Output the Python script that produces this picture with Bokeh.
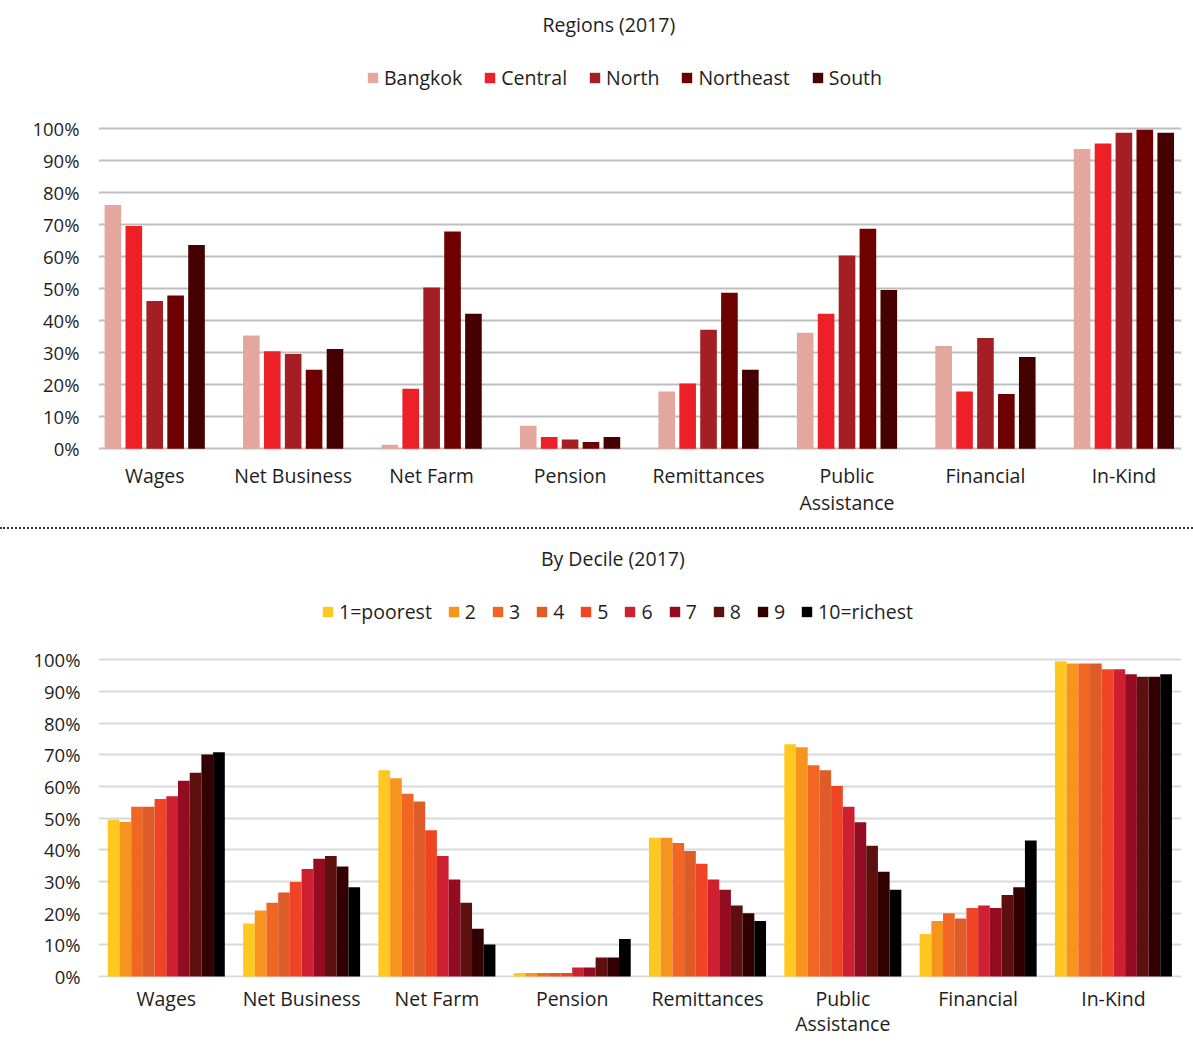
from bokeh.plotting import figure
from bokeh.models import (Range1d, FixedTicker, PrintfTickFormatter, Legend,
                          LegendItem, Div, ColumnDataSource, Label)
from bokeh.layouts import column
from bokeh.embed import file_html
from bokeh.resources import INLINE

# ---------------- data ----------------
categories = ["Wages", "Net Business", "Net Farm", "Pension", "Remittances",
              "Public\nAssistance", "Financial", "In-Kind"]

regions = ["Bangkok", "Central", "North", "Northeast", "South"]
bangkok = [76.2, 35.4, 1.3, 7.2, 17.9, 36.3, 32.1, 93.7]
central = [69.6, 30.5, 18.8, 3.7, 20.4, 42.2, 17.9, 95.4]
north = [46.2, 29.6, 50.4, 2.9, 37.2, 60.4, 34.6, 98.8]
northeast = [47.9, 24.7, 67.9, 2.1, 48.8, 68.8, 17.1, 99.7]
south = [63.7, 31.2, 42.2, 3.7, 24.7, 49.6, 28.7, 98.8]
region_colors = ["#E4A79D", "#ED1F27", "#A51E24", "#6E0000", "#450000"]

deciles = ["1=poorest", "2", "3", "4", "5", "6", "7", "8", "9", "10=richest"]
d1 = [49.5, 16.7, 65.1, 1.1, 43.8, 73.3, 13.4, 99.5]
d2 = [48.8, 20.8, 62.6, 1.1, 43.8, 72.4, 17.5, 98.8]
d3 = [53.6, 23.3, 57.7, 1.1, 42.1, 66.7, 20.0, 98.8]
d4 = [53.6, 26.5, 55.2, 1.1, 39.6, 65.1, 18.3, 98.8]
d5 = [56.0, 29.8, 46.2, 1.1, 35.6, 60.1, 21.6, 97.0]
d6 = [56.9, 33.9, 38.0, 2.8, 30.6, 53.6, 22.4, 97.0]
d7 = [61.8, 37.2, 30.6, 2.8, 27.4, 48.7, 21.6, 95.4]
d8 = [64.3, 38.0, 23.3, 6.0, 22.4, 41.3, 25.7, 94.6]
d9 = [70.1, 34.7, 15.1, 6.0, 20.0, 33.1, 28.2, 94.6]
d10 = [70.8, 28.2, 10.1, 11.8, 17.5, 27.4, 42.9, 95.4]
decile_colors = ["#FEC820", "#F7941E", "#F26623", "#DE5C28", "#EF4524",
                 "#CE2030", "#930C22", "#5E100E", "#320000", "#000000"]

yticks = list(range(0, 101, 10))
FONT = "Open Sans"
TXT = "#1e1e1e"
TXT_SIZE = "19.5px"
TICK_SIZE = "18.5px"


def make_chart(title, title_xy, names, series, colors, width, height, borders,
               x_rng, y_rng, step, bar_w, grid_color, legend_loc, legend_gap,
               x_standoff, y_standoff, line_h):
    p = figure(width=width, height=height, output_backend="svg", title=None,
               toolbar_location=None, x_range=Range1d(*x_rng),
               y_range=Range1d(*y_rng),
               min_border_left=borders[0], min_border_right=borders[1],
               min_border_top=borders[2], min_border_bottom=borders[3])
    n = len(names)
    items = []
    for j, (name, vals, col) in enumerate(zip(names, series, colors)):
        off = (j - (n - 1) / 2) * step
        src = ColumnDataSource(dict(x=[i + off for i in range(len(categories))],
                                    top=vals))
        r = p.vbar(x="x", top="top", bottom=0, width=bar_w, source=src,
                   fill_color=col, line_color=None)
        items.append(LegendItem(label=name, renderers=[r]))

    legend = Legend(items=items, orientation="horizontal",
                    location=legend_loc, glyph_width=13, glyph_height=13,
                    label_standoff=5, spacing=legend_gap, padding=0, margin=0,
                    label_text_font=FONT, label_text_font_size=TXT_SIZE,
                    label_text_color=TXT, label_width=4, label_height=13,
                    border_line_color=None, background_fill_alpha=0)
    p.add_layout(legend, "center")

    p.add_layout(Label(x=title_xy[0], y=title_xy[1], text=title,
                       text_align="center", text_baseline="middle",
                       text_font=FONT, text_font_size=TXT_SIZE,
                       text_color=TXT))

    p.yaxis.ticker = FixedTicker(ticks=yticks)
    p.yaxis.formatter = PrintfTickFormatter(format="%d%%")
    p.yaxis.axis_label = None
    p.yaxis.axis_line_color = None
    p.yaxis.major_tick_line_color = None
    p.yaxis.minor_tick_line_color = None
    p.yaxis.major_tick_out = 0
    p.yaxis.major_tick_in = 0
    p.yaxis.minor_tick_out = 0
    p.yaxis.major_label_standoff = y_standoff
    p.yaxis.major_label_text_font = FONT
    p.yaxis.major_label_text_font_size = TICK_SIZE
    p.yaxis.major_label_text_color = TXT

    p.xaxis.ticker = FixedTicker(ticks=list(range(len(categories))))
    p.xaxis.major_label_overrides = {i: c for i, c in enumerate(categories)}
    p.xaxis.axis_label = None
    p.xaxis.axis_line_color = None
    p.xaxis.major_tick_line_color = None
    p.xaxis.minor_tick_line_color = None
    p.xaxis.major_tick_out = 0
    p.xaxis.major_tick_in = 0
    p.xaxis.minor_tick_out = 0
    p.xaxis.major_label_standoff = x_standoff
    p.xaxis.major_label_text_font = FONT
    p.xaxis.major_label_text_font_size = TXT_SIZE
    p.xaxis.major_label_text_color = TXT
    p.xaxis.major_label_text_line_height = line_h

    p.xgrid.grid_line_color = None
    p.ygrid.ticker = FixedTicker(ticks=yticks)
    p.ygrid.grid_line_color = grid_color
    p.ygrid.grid_line_width = 2
    p.outline_line_color = None
    p.background_fill_color = "white"
    p.border_fill_color = "white"
    return p


p1 = make_chart("Regions (2017)", (3.28, 132.6), regions,
                [bangkok, central, north, northeast, south], region_colors,
                width=1193, height=527, borders=(90, 0, 0, 77),
                x_rng=(-0.406, 7.416), y_rng=(-0.53, 140.1),
                step=0.151, bar_w=0.12, grid_color="#BFBFBF",
                legend_loc=(268, 359), legend_gap=21, x_standoff=11,
                y_standoff=19, line_h=1.0)

p2 = make_chart("By Decile (2017)", (3.30, 132.0), deciles,
                [d1, d2, d3, d4, d5, d6, d7, d8, d9, d10], decile_colors,
                width=1193, height=515, borders=(98, 12, 0, 67),
                x_rng=(-0.501, 7.503), y_rng=(-0.32, 141.1),
                step=0.0865, bar_w=0.0865, grid_color="#D9D9D9",
                legend_loc=(223, 352), legend_gap=15, x_standoff=7,
                y_standoff=18, line_h=0.95)

sep = Div(text="", width=1193, height=2, margin=(0, 0, 0, 0),
          styles={"border-top": "2px dotted #333333"})

layout = column(p1, sep, p2, spacing=0)

open("out.html", "w").write(file_html(layout, INLINE))
